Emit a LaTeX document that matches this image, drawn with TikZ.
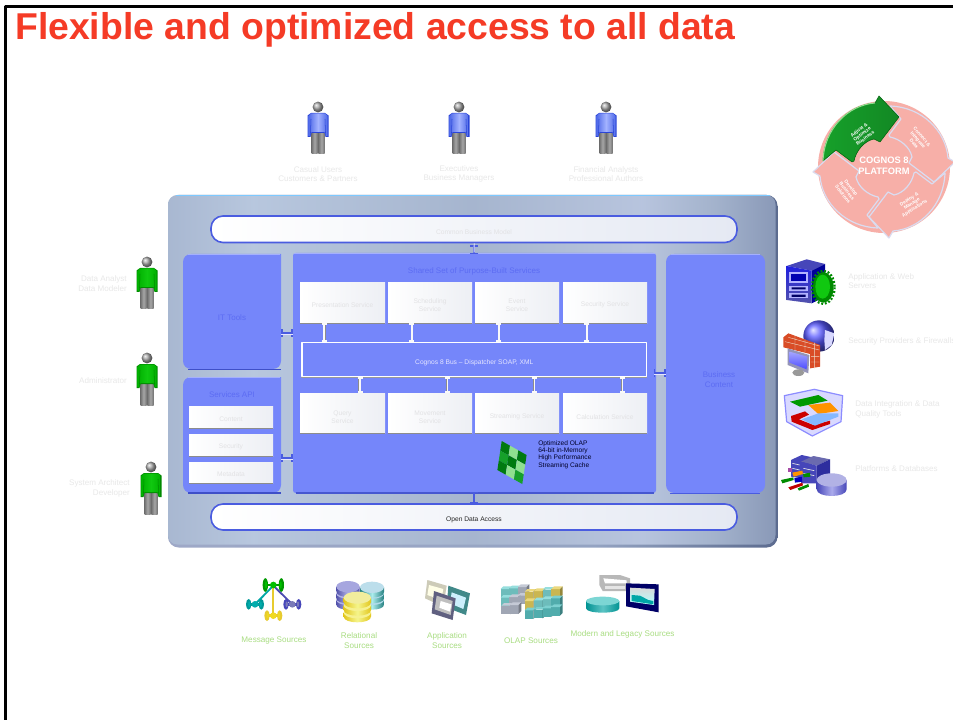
\documentclass[tikz,border=0pt]{standalone}
\usepackage{fontspec}
\setmainfont{Liberation Sans}
\usetikzlibrary{calc,arrows.meta}
\definecolor{panelblue}{HTML}{7586FA}
\definecolor{edgeblue}{HTML}{4A5CE0}
\definecolor{deepblue}{HTML}{3E4FC8}
\definecolor{labelblue}{HTML}{5C6CF3}
\definecolor{ghost}{HTML}{E8E8E8}
\definecolor{ghostb}{HTML}{E2E2E4}
\definecolor{srcgreen}{HTML}{A9DD82}
\definecolor{titlered}{HTML}{F53B26}
\definecolor{pinkdisc}{HTML}{F7AFA8}
\definecolor{lav}{HTML}{DADCF0}
\definecolor{barend}{HTML}{E5E9F3}
\definecolor{svcend}{HTML}{EDEFF4}
\definecolor{cubeteal}{HTML}{7CD6D4}
\definecolor{cubegray}{HTML}{B6BDCC}
\definecolor{cubeyel}{HTML}{E6CF5C}
\definecolor{cubedeep}{HTML}{5CC4C4}
\definecolor{gdark}{HTML}{007A10}
\definecolor{gmid}{HTML}{16A02A}
\definecolor{glite}{HTML}{8FE08F}
\definecolor{shirtgd}{HTML}{008A00}
\definecolor{shirtgm}{HTML}{00B000}
\definecolor{shirtgl}{HTML}{10C810}
\definecolor{shirtbd}{HTML}{2A45D8}
\definecolor{shirtbm}{HTML}{4F69E8}
\definecolor{shirtbl}{HTML}{A3B3FF}
\pgfdeclarehorizontalshading{panelshade}{100bp}{
 rgb(0bp)=(.66,.72,.82); rgb(25bp)=(.66,.72,.82); rgb(32bp)=(.72,.78,.87);
 rgb(50bp)=(.65,.71,.81); rgb(64bp)=(.72,.77,.87); rgb(70bp)=(.64,.70,.80); rgb(75bp)=(.54,.60,.72); rgb(100bp)=(.54,.60,.72)}
\pgfdeclarehorizontalshading{rimshade}{100bp}{
 rgb(0bp)=(.62,.66,.78); rgb(25bp)=(.62,.66,.78); rgb(60bp)=(.58,.64,.76); rgb(75bp)=(.36,.42,.56); rgb(100bp)=(.36,.42,.56)}
\tikzset{
 base/.style={font=\fontsize{6.05}{7.2}\selectfont,align=center,inner sep=0pt,text=ghost},
 leftlbl/.style={base,align=right,anchor=east},
 rightlbl/.style={base,align=left,anchor=west},
 srclbl/.style={base,text=srcgreen,font=\fontsize{6.1}{7}\selectfont},
 barbox/.style={rounded corners=9pt,draw=edgeblue,line width=1.2pt,left color=white,right color=barend,inner sep=0pt},
 svcbox/.style={left color=white,right color=svcend,inner sep=0pt},
 smalltxt/.style={inner sep=0pt,align=center,text=ghostb,font=\fontsize{5}{5.8}\selectfont},
 blueblock/.style={inner sep=0pt,align=center,text=labelblue,font=\fontsize{6}{7.5}\selectfont},
 busbox/.style={draw=white,line width=.8pt,inner sep=0pt},
 whitelink/.style={draw=white!95!gray,line width=1.3pt,{Bar[width=3.6pt,length=.6pt]}-{Bar[width=3.6pt,length=.6pt]}},
 shadelink/.style={draw=black!45,line width=.7pt},
 bluelink/.style={draw=edgeblue,line width=1.1pt,{Bar[width=6pt,length=.8pt]}-{Bar[width=6pt,length=.8pt]}},
 lightlink/.style={draw=white!90!blue,line width=.7pt},
 cycletxt/.style={text=white,font=\fontsize{3.6}{3.9}\bfseries\selectfont,align=center,inner sep=0pt},
}
% box by pixel corners
\newcommand{\pxbox}[7]{\node[#2,minimum width={(#5-#3)*0.75pt},minimum height={(#6-#4)*0.75pt}] (#1) at ({(#3+#5)/2},{(#4+#6)/2}) {#7};}
% service box with text set a little below the box centre: name, x1,y1,x2,y2, drop, text
\newcommand{\svcitem}[7]{\pxbox{#1}{svcbox}{#2}{#3}{#4}{#5}{}\draw[black!45,line width=1pt] (#1.south west) -- (#1.south east);\node[smalltxt] (#1t) at ([yshift=-#6pt]#1.center) {#7};}
% person: x, head y, dark, mid, light
\newcommand{\person}[5]{\begin{scope}[shift={(#1,#2)}]
 \path[left color=black!55,right color=black!55,middle color=black!35] (-6.5,24) rectangle (-0.4,47);
 \path[left color=black!55,right color=black!55,middle color=black!35] (0.4,24) rectangle (6.5,47);
 \fill[#3] (-7,6) -- (-10.5,8.5) -- (-10.5,30) -- (-7.5,30) -- (-6.5,26) -- (6.5,26) -- (7.5,30) -- (10.5,30) -- (10.5,8.5) -- (7,6) -- cycle;
 \path[left color=#4,right color=#4,middle color=#5] (-7,6.5) -- (-9.5,9) -- (-9.5,29) -- (-7.8,29) -- (-6.5,25) -- (6.5,25) -- (7.8,29) -- (9.5,29) -- (9.5,9) -- (7,6.5) -- cycle;
 \draw[#3,line width=.4pt] (-7,12) -- (-7.6,28) (7,12) -- (7.6,28);
 \shade[ball color=black!35] (0,0) circle (5.4);
\end{scope}}
% cylinder: cx, top y, rx, ry, h, side dark, side light, top colour
\newcommand{\cyl}[8]{\path[left color=#6,right color=#6,middle color=#7] ({#1-#3},#2) -- ({#1-#3},{#2+#5}) .. controls ({#1-#3},{#2+#5+1.33*#4}) and ({#1+#3},{#2+#5+1.33*#4}) .. ({#1+#3},{#2+#5}) -- ({#1+#3},#2) -- cycle;
 \fill[#8] (#1,#2) ellipse ({#3} and {#4});}
\newcommand{\cubelet}[3]{\fill[#3!88!black] (#1,#2) rectangle ({#1+26},{#2+26});\fill[#3!80!white] (#1,#2) -- ({#1+8},{#2-8}) -- ({#1+34},{#2-8}) -- ({#1+26},#2) -- cycle;\fill[#3!65!black] ({#1+26},#2) -- ({#1+34},{#2-8}) -- ({#1+34},{#2+18}) -- ({#1+26},{#2+26}) -- cycle;}
\newcommand{\msgnode}[5]{\draw[#4,line width=1.8pt] ({#1-#3},#2) -- ({#1+#3},#2);
 \fill[#4] ({#1-#3},#2) ellipse (8 and {#3*.85});\fill[#5] ({#1-#3+2},#2) ellipse (3.5 and {#3*.45});
 \fill[#4] ({#1+#3},#2) ellipse (8 and {#3*.85});\fill[#5] ({#1+#3-2},#2) ellipse (3.5 and {#3*.45});
 \fill[#5] (#1,#2) circle (10);}
\newcommand{\cyclearrow}{(-61,-6) .. controls (-60,-38) and (-36,-62) .. (-9,-64) -- (-5,-71) -- (15,-50) -- (-4,-25) -- (-10,-28) .. controls (-20,-26) and (-28,-16) .. (-30,-6) -- (-32,-5) -- (-48,-17) -- cycle}
\begin{document}
\begin{tikzpicture}[x=0.75pt,y=-0.75pt,line join=round]
\useasboundingbox (0,0) rectangle (953,720);
\fill[white] (0,0) rectangle (953,720);
% slide frame
\draw[black,line width=1.7pt] (5.5,720) -- (5.5,6.5) -- (953,6.5);
\node[anchor=west,inner sep=0pt,text=titlered,font=\fontsize{28}{32}\bfseries\selectfont] (title) at (15,30) {Flexible and optimized access to all data};

% people
\person{318}{107}{shirtbd}{shirtbm}{shirtbl}
\person{459}{107}{shirtbd}{shirtbm}{shirtbl}
\person{606}{107}{shirtbd}{shirtbm}{shirtbl}
\person{147}{262}{shirtgd}{shirtgm}{shirtgl}
\person{147}{358}{shirtgd}{shirtgm}{shirtgl}
\person{151}{467}{shirtgd}{shirtgm}{shirtgl}
\node[base] (lu1) at (318,174) {Casual Users\\Customers \& Partners};
\node[base] (lu2) at (459,174) {Executives\\Business Managers};
\node[base] (lu3) at (606,174) {Financial Analysts\\Professional Authors};
\node[leftlbl] (ll1) at (127,283.5) {Data Analyst\\Data Modeler};
\node[leftlbl] (ll2) at (127,381) {Administrator};
\node[leftlbl] (ll3) at (130,488.5) {System Architect\\Developer};

% outer panel
\path[shading=rimshade,rounded corners=8pt] (168,195) rectangle (777.5,547.5);
\path[shading=panelshade,rounded corners=7pt] (168,195) rectangle (775.5,544.5);
\draw[white!70!blue!70!cyan,line width=.8pt] (176,195.5) -- (770,195.5);

% bars
\pxbox{cbm}{barbox}{211}{216}{737}{242.5}{}
\node[smalltxt] (cbmt) at ([yshift=-2pt]cbm.center) {Common Business Model};
\pxbox{oda}{barbox}{211}{504}{737}{530}{}
\node[smalltxt,text=black!85] (odat) at ([yshift=-2pt]oda.center) {Open Data Access};

% blocks
\path[fill=panelblue,rounded corners=6pt] (183,254) -- (183,369) -- (281,369) [sharp corners] -- (281,254) [rounded corners=6pt] -- cycle;
\path[fill=panelblue,rounded corners=6pt] (183,377) -- (183,493) -- (281,493) [sharp corners] -- (281,377) [rounded corners=6pt] -- cycle;
\path[fill=panelblue,rounded corners=2pt] (293,253) rectangle (656,493);
\path[fill=panelblue,rounded corners=6pt] (666,254) rectangle (765,493);
\draw[deepblue,line width=1.2pt] (188,369.5) -- (281,369.5);
\draw[deepblue,line width=1.2pt] (188,493) -- (281,493);
\draw[deepblue!85!panelblue,line width=1pt] (296,493) -- (654,493);
\draw[edgeblue,line width=.7pt] (670,493) -- (760,493);
\draw[white!35!panelblue,line width=.6pt] (188,254) -- (280,254) (188,377) -- (280,377) (294,253) -- (655,253) (671,254) -- (760,254);

\pxbox{ittools}{blueblock}{183}{254}{281}{369}{}
\node[blueblock] (itlbl) at (232,318) {IT Tools};
\pxbox{api}{blueblock}{183}{377}{281}{493}{}
\node[blueblock] (apilbl) at (232,394.5) {Services API};
\pxbox{shared}{blueblock}{293}{253}{656}{493}{}
\node[blueblock] (sharedlbl) at (474,271) {Shared Set of Purpose-Built Services};
\pxbox{biz}{blueblock}{666}{254}{765}{493}{}
\node[blueblock] (bizlbl) at (719,380) {Business\\Content};

% services
\svcitem{s1}{300}{283}{385}{323}{1.5}{Presentation Service}
\svcitem{s2}{388}{283}{472}{323}{1.5}{Scheduling\\Service}
\svcitem{s3}{475}{283}{559}{323}{1.5}{Event\\Service}
\svcitem{s4}{563}{283}{647}{323}{1.5}{Security Service}
\pxbox{bus}{busbox}{302}{342.5}{646.5}{376.5}{}
\node[smalltxt,text=white!90!blue] (bust) at ([yshift=-2.2pt]bus.center) {Cognos 8 Bus -- Dispatcher SOAP, XML};
\draw[black!40,line width=.8pt] ([yshift=-.6pt]bus.south west) -- ([yshift=-.6pt]bus.south east);
\svcitem{q1}{300}{393}{385}{433}{3}{Query\\Service}
\svcitem{q2}{388}{393}{472}{433}{3}{Movement\\Service}
\svcitem{q3}{475}{393}{559}{433}{3}{Streaming Service}
\svcitem{q4}{563}{393}{647}{433}{3}{Calculation Service}
\svcitem{a1}{189}{406}{273}{428}{1.5}{Content}
\svcitem{a2}{189}{434}{273}{456}{1.5}{Security}
\svcitem{a3}{189}{462}{273}{483}{1.5}{Metadata}

% bus links
\foreach \n in {s1,s2,s3,s4}{
 \draw[shadelink] ([xshift=-12.8pt]\n.south) -- ([xshift=-12.8pt]\n.south |- bus.north);
 \draw[whitelink] ([xshift=-13.7pt]\n.south) -- ([xshift=-13.7pt]\n.south |- bus.north);
}
\foreach \n in {q1,q2,q3,q4}{
 \draw[shadelink] ([xshift=12.3pt]\n.north) -- ([xshift=12.3pt]\n.north |- bus.south);
 \draw[whitelink] ([xshift=13.2pt]\n.north) -- ([xshift=13.2pt]\n.north |- bus.south);
}
% outer links
\draw[bluelink] ([yshift=-1.5pt]cbm.south) -- ([yshift=-1pt]cbm.south |- shared.north);
\draw[lightlink] ([xshift=.2pt]cbm.south) -- (cbm.south |- shared.north);
\draw[bluelink] ([yshift=1pt]oda.north |- shared.south) -- (oda.north);
\coordinate (itend) at (ittools.east |- 0,333);
\coordinate (apiend) at (api.east |- 0,458);
\coordinate (bizend) at (biz.west |- 0,373);
\draw[bluelink] (itend) -- (itend -| shared.west);
\draw[lightlink] ([yshift=-1pt]itend) -- ([yshift=-1pt]itend -| shared.west);
\draw[bluelink] (apiend) -- (apiend -| shared.west);
\draw[lightlink] ([yshift=-1pt]apiend) -- ([yshift=-1pt]apiend -| shared.west);
\draw[bluelink] ([xshift=-2pt]bizend -| shared.east) -- (bizend);
\draw[lightlink] ([xshift=-2pt,yshift=-1pt]bizend -| shared.east) -- ([yshift=-1pt]bizend);

% OLAP cube
\foreach \i/\j/\c in {0/0/gdark,1/0/glite,2/0/gdark,0/1/gmid,1/1/gdark,2/1/glite,0/2/gdark,1/2/glite,2/2/gmid}{
 \fill[\c] ({501.7+\i*8.3-\j*1.44},{441+\i*4.67+\j*9.67}) -- ({501.7+(\i+1)*8.3-\j*1.44},{441+(\i+1)*4.67+\j*9.67}) -- ({501.7+(\i+1)*8.3-(\j+1)*1.44},{441+(\i+1)*4.67+(\j+1)*9.67}) -- ({501.7+\i*8.3-(\j+1)*1.44},{441+\i*4.67+(\j+1)*9.67}) -- cycle;}
\node[base,anchor=north west,align=left,text=black!85!blue,font=\fontsize{4.95}{5.4}\selectfont] (olap) at (538,440.5) {Optimized OLAP\\64-bit in-Memory\\High Performance\\Streaming Cache};

% cycle graphic
\fill[pinkdisc] (884,167) circle (66);
\begin{scope}[shift={(884,167)}]
 \foreach \r in {-90,-180,-270}{\path[rotate=\r,fill=pinkdisc,draw=lav,line width=.9pt] \cyclearrow;}
 \path[left color=gmid,right color=gmid!85!black,draw=gdark!80!black,line width=.4pt] \cyclearrow;
 \draw[glite,line width=.8pt] (-61,-6) .. controls (-60,-38) and (-36,-62) .. (-9,-64);
\end{scope}
\node[cycletxt,rotate=37] (c1) at (862,134) {Adjust \&\\Optimize\\Business};
\node[cycletxt,rotate=-50] (c2) at (918,140) {Connect \&\\Integrate\\Data};
\node[cycletxt,rotate=32] (c3) at (912,204) {Deploy \&\\Manage\\Applications};
\node[cycletxt,rotate=-52] (c4) at (847,191) {Develop\\Business\\Solutions};
\node[text=white,font=\fontsize{7}{8.5}\bfseries\selectfont,align=center,inner sep=0pt] (cc) at (884,165.5) {COGNOS 8\\PLATFORM};

% right labels
\node[rightlbl] (r1) at (848,281) {Application \& Web\\Servers};
\node[rightlbl] (r2) at (848,341) {Security Providers \& Firewalls};
\node[rightlbl] (r3) at (855,409.5) {Data Integration \& Data\\Quality Tools};
\node[rightlbl] (r4) at (855,469) {Platforms \& Databases};

% right icons, in zoomed units
\begin{scope}[shift={(775,250)},x=0.25pt,y=-0.25pt]
 % server
 \fill[blue!45!gray] (35,48) -- (95,28) -- (150,42) -- (110,62) -- cycle;
 \fill[blue!60!black] (110,62) -- (150,42) -- (150,140) -- (110,160) -- cycle;
 \path[top color=blue!75!gray,bottom color=blue!35!gray] (35,48) -- (110,62) -- (110,160) -- (35,150) -- cycle;
 \fill[white!70!blue] (42,65) rectangle (100,100);
 \fill[blue!70!black] (48,72) rectangle (92,92);
 \fill[white!70!blue] (42,108) rectangle (100,122);
 \fill[white!70!blue] (42,130) rectangle (100,145);
 \fill[black!60!blue] (50,112) rectangle (92,118) (50,134) rectangle (92,141);
 \draw[shirtgd,line width=1.6pt,dash pattern=on 1.4pt off 1.4pt] (145,112) ellipse (34 and 50);
 \fill[shirtgd] (145,112) ellipse (31 and 46);
 \fill[shirtgl] (143,110) ellipse (22 and 36);
 % globe + wall + monitor
 \shade[ball color=blue!65!white] (132,258) circle (47);
 \fill[white!85!blue] (150,240) -- (178,250) -- (170,285) -- (150,300) -- (148,270) -- cycle;
 \fill[red!40!brown] (25,262) -- (40,250) -- (135,285) -- (135,350) -- (105,355) -- (105,312) -- (25,292) -- cycle;
 \draw[white!70!brown,line width=.3pt] (30,275) -- (133,300) (40,262) -- (133,288) (108,320) -- (133,320) (108,336) -- (133,336) (60,258) -- (60,300) (90,268) -- (90,308) (118,278) -- (118,355);
 \fill[blue!20!gray!70!white] (38,295) -- (103,315) -- (100,370) -- (38,345) -- cycle;
 \path[top color=blue!35!white,bottom color=blue!70!white] (44,305) -- (97,320) -- (95,358) -- (44,338) -- cycle;
 \fill[black!40] (70,368) ellipse (18 and 10);
 % data integration
 \path[fill=blue!15!white,draw=blue!45!white,line width=.9pt] (28,437) -- (118,418) -- (203,437) -- (198,515) -- (112,558) -- (35,515) -- cycle;
 \fill[green!60!black] (45,455) -- (130,435) -- (158,452) -- (75,470) -- cycle;
 \fill[orange!85!yellow] (100,465) -- (165,458) -- (190,483) -- (130,492) -- cycle;
 \fill[red!80!black] (48,498) -- (90,484) -- (102,494) -- (72,508) -- (115,525) -- (165,512) -- (165,522) -- (112,540) -- (50,515) -- cycle;
 \fill[blue!35!white!80!cyan] (80,508) -- (130,490) -- (190,490) -- (190,500) -- (120,527) -- cycle;
 % platforms
 \fill[blue!45!gray] (48,630) -- (80,615) -- (112,622) -- (112,690) -- (48,680) -- cycle;
 \fill[blue!30!gray!90!white] (78,635) -- (115,618) -- (165,628) -- (125,647) -- cycle;
 \fill[blue!45!gray] (78,635) -- (125,647) -- (125,700) -- (78,700) -- cycle;
 \fill[blue!55!gray!80!black] (125,647) -- (165,628) -- (165,680) -- (125,700) -- cycle;
 \draw[white!80!gray,line width=.5pt] (85,655) -- (118,662) (85,670) -- (118,677) (52,640) -- (74,645) (52,655) -- (74,660);
 \cyl{170}{690}{45}{20}{28}{blue!45!gray}{blue!30!white!85!gray}{blue!25!white!80!gray}
 \fill[violet!70!white] (38,655) rectangle (50,667);
 \fill[orange!85!yellow] (52,668) -- (82,662) -- (84,672) -- (56,680) -- cycle;
 \fill[green!55!black] (18,690) -- (55,682) -- (56,690) -- (22,700) -- cycle;
 \fill[blue!75!black] (58,685) -- (80,680) -- (82,695) -- (60,698) -- cycle;
 \fill[green!55!black] (84,672) -- (105,668) -- (106,680) -- (86,682) -- cycle;
 \fill[red!75!black] (40,712) -- (82,698) -- (84,706) -- (46,720) -- cycle;
 \fill[green!55!black] (68,715) -- (100,702) -- (102,710) -- (72,722) -- cycle;
\end{scope}

% bottom icons, in zoomed units
\begin{scope}[shift={(230,565)},x=0.25pt,y=-0.25pt]
 % message
 \draw[teal!70!cyan,line width=1.4pt] (130,62) -- (75,118);
 \draw[blue!40!gray,line width=1.4pt] (130,62) -- (187,118);
 \draw[yellow!60!brown,line width=1.6pt] (130,62) -- (130,150);
 \msgnode{130}{60}{24}{green!60!black}{green!75!black}
 \msgnode{75}{118}{19}{teal!80!cyan}{teal!65!cyan}
 \msgnode{187}{118}{19}{blue!45!gray}{blue!30!gray!80!white}
 \msgnode{130}{152}{19}{yellow!60!brown}{yellow!75!brown}
 % relational
 \cyl{354}{105}{35}{15}{14}{blue!35!gray}{blue!25!white!80!gray}{blue!25!white!80!gray}
 \cyl{354}{86}{35}{15}{14}{blue!35!gray}{blue!25!white!80!gray}{blue!25!white!80!gray}
 \cyl{354}{65}{35}{17}{14}{blue!35!gray}{blue!25!white!80!gray}{blue!30!white!75!gray}
 \cyl{426}{105}{36}{15}{14}{teal!70!gray}{cyan!30!white!85!gray}{cyan!30!white!85!gray}
 \cyl{426}{86}{36}{15}{14}{teal!70!gray}{cyan!30!white!85!gray}{cyan!30!white!85!gray}
 \cyl{426}{67}{36}{17}{14}{teal!70!gray}{cyan!30!white!85!gray}{cyan!25!white!85!gray}
 \cyl{382}{143}{41}{17}{12}{yellow!55!brown}{yellow!45!white!92!gray}{yellow!45!white!92!gray}
 \cyl{382}{121}{41}{17}{14}{yellow!55!brown}{yellow!45!white!92!gray}{yellow!45!white!92!gray}
 \cyl{382}{98}{41}{18}{14}{yellow!55!brown}{yellow!45!white!92!gray}{yellow!40!white!88!gray}
 % application
 \fill[yellow!18!gray!55!white] (592,45) -- (650,62) -- (640,125) -- (585,100) -- cycle;
 \fill[white!90!yellow] (597,60) -- (640,72) -- (634,105) -- (592,90) -- cycle;
 \fill[cubedeep!70!black] (655,62) -- (720,85) -- (708,150) -- (650,128) -- cycle;
 \fill[cyan!20!white] (665,82) -- (708,98) -- (700,132) -- (660,115) -- cycle;
 \fill[black!50!blue!25!gray] (612,78) -- (677,100) -- (668,165) -- (605,145) -- cycle;
 \fill[black!25!white] (620,92) -- (668,108) -- (662,150) -- (614,133) -- cycle;
 \fill[white] (632,108) -- (664,118) -- (660,140) -- (628,128) -- cycle;
 % OLAP
 \foreach \cx/\cy/\cc in {812/72/cubeteal,838/70/cubeteal,864/66/cubegray,812/98/cubeteal,838/96/cubegray,864/92/cubegray,814/122/cubegray,840/120/cubegray,
 884/80/cubeyel,912/78/cubeyel,938/74/cubeteal,964/72/cubeyel,884/108/cubeyel,912/106/cubeteal,938/102/cubeteal,964/100/cubedeep,884/136/cubedeep,912/134/cubedeep,938/130/cubedeep,964/126/cubedeep}{
  \cubelet{\cx}{\cy}{\cc}}
 % modern and legacy
 \fill[black!28] (1108,30) -- (1170,30) -- (1200,40) -- (1200,78) -- (1118,78) -- (1108,60) -- cycle;
 \fill[white] (1120,40) -- (1190,46) -- (1190,55) -- (1125,55) -- cycle;
 \fill[white!80!gray] (1125,62) -- (1186,62) -- (1186,72) -- (1125,72) -- cycle;
 \cyl{1118}{108}{50}{13}{22}{teal!85!cyan}{cubedeep}{cubeteal}
 \fill[blue!40!black] (1188,55) -- (1286,58) -- (1286,142) -- (1188,124) -- cycle;
 \path[top color=black!15,bottom color=cyan!30!white] (1200,68) -- (1274,72) -- (1272,120) -- (1200,110) -- cycle;
 \fill[teal!70!cyan] (1205,90) -- (1230,92) -- (1255,105) -- (1270,108) -- (1270,118) -- (1205,108) -- cycle;
\end{scope}
\node[srclbl] (m1) at (274,641) {Message Sources};
\node[srclbl] (m2) at (359,640.5) {Relational\\Sources};
\node[srclbl] (m3) at (447,640.5) {Application\\Sources};
\node[srclbl] (m4) at (531,641) {OLAP Sources};
\node[srclbl] (m5) at (622.5,634) {Modern and Legacy Sources};
\end{tikzpicture}
\end{document}
